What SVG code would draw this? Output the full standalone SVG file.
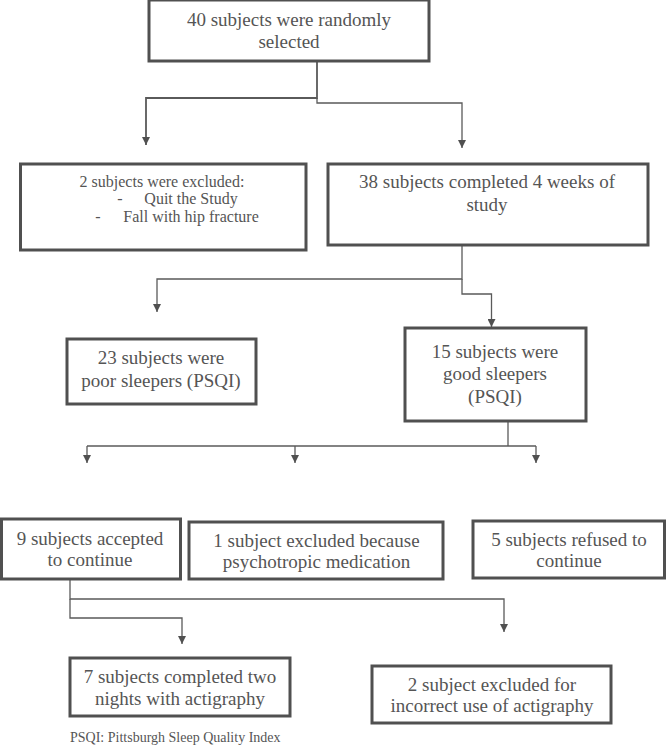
<svg xmlns="http://www.w3.org/2000/svg" width="666" height="747" viewBox="0 0 666 747">
<style>
.box{fill:#fff;stroke:#505050;stroke-width:3}
.t{font-size:19px;fill:#555;text-anchor:middle}
.s{font-size:16px}
.f{font-size:14px;fill:#555}
.c{fill:none;stroke:#5a5a5a;stroke-width:1.3}
</style>
<defs>
<marker id="ar" viewBox="0 0 10 10" refX="10" refY="5" markerWidth="8" markerHeight="8" markerUnits="userSpaceOnUse" orient="auto">
<path d="M0,0 L10,5 L0,10 z" fill="#505050"/>
</marker>
</defs>
<rect width="666" height="747" fill="#fff"/>
<g id="connectors">
<path class="c" d="M317,61 V98 H146 V145" marker-end="url(#ar)" style="stroke-width:1.8"/>
<path class="c" d="M317,98 V103 H462 V148" marker-end="url(#ar)"/>
<path class="c" d="M462,245 V279 H157 V312" marker-end="url(#ar)"/>
<path class="c" d="M462,279 V294 H491.5 V327" marker-end="url(#ar)"/>
<path class="c" d="M508,421 V446"/>
<path class="c" d="M87,446 H536"/>
<path class="c" d="M87,446 V463" marker-end="url(#ar)"/>
<path class="c" d="M295,446 V463" marker-end="url(#ar)"/>
<path class="c" d="M536,446 V463" marker-end="url(#ar)"/>
<path class="c" d="M70,579 V599 H504 V632" marker-end="url(#ar)"/>
<path class="c" d="M70,599 V618 H182 V644" marker-end="url(#ar)"/>
</g>
<g font-family="Liberation Serif, Times New Roman, serif">
<g id="n1"><rect class="box" x="149" y="0" width="280" height="61"/>
<text class="t" x="289" y="26">40 subjects were randomly</text>
<text class="t" x="289" y="48">selected</text></g>
<g id="n2"><rect class="box" x="20.5" y="164" width="285.5" height="86"/>
<text class="t s" x="162" y="187">2 subjects were excluded:</text>
<text class="t s" x="120" y="204">-</text>
<text class="t s" x="191" y="204">Quit the Study</text>
<text class="t s" x="98" y="222">-</text>
<text class="t s" x="191" y="222">Fall with hip fracture</text></g>
<g id="n3"><rect class="box" x="328" y="164" width="320" height="81"/>
<text class="t" x="487" y="188">38 subjects completed 4 weeks of</text>
<text class="t" x="487" y="211">study</text></g>
<g id="n4"><rect class="box" x="67" y="339" width="189" height="65"/>
<text class="t" x="161" y="364">23 subjects were</text>
<text class="t" x="161" y="387">poor sleepers (PSQI)</text></g>
<g id="n5"><rect class="box" x="405" y="328" width="181" height="93"/>
<text class="t" x="495" y="358">15 subjects were</text>
<text class="t" x="495" y="380">good sleepers</text>
<text class="t" x="495" y="403">(PSQI)</text></g>
<g id="n6"><rect class="box" x="1.5" y="519" width="179" height="60"/>
<text class="t" x="90" y="545">9 subjects accepted</text>
<text class="t" x="90" y="566">to continue</text></g>
<g id="n7"><rect class="box" x="189" y="522" width="254" height="57"/>
<text class="t" x="316.5" y="547">1 subject excluded because</text>
<text class="t" x="316.5" y="568">psychotropic medication</text></g>
<g id="n8"><rect class="box" x="473" y="521" width="191.5" height="57"/>
<text class="t" x="569" y="546">5 subjects refused to</text>
<text class="t" x="569" y="567">continue</text></g>
<g id="n9"><rect class="box" x="70" y="658" width="220" height="58"/>
<text class="t" x="180" y="683">7 subjects completed two</text>
<text class="t" x="180" y="705">nights with actigraphy</text></g>
<g id="n10"><rect class="box" x="372" y="666" width="239" height="57"/>
<text class="t" x="492" y="691">2 subject excluded for</text>
<text class="t" x="492" y="712">incorrect use of actigraphy</text></g>
<text class="f" x="70" y="742">PSQI: Pittsburgh Sleep Quality Index</text>
</g>
</svg>
